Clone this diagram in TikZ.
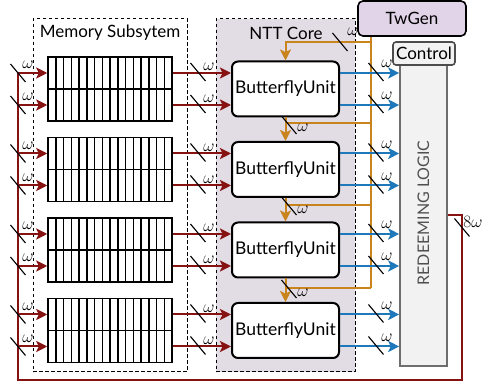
\documentclass[tikz,border=0pt]{standalone}
\usepackage{fontspec}
\setmainfont{Lato}
\usetikzlibrary{arrows.meta}
\definecolor{cred}{RGB}{135,18,18}
\definecolor{cblue}{RGB}{30,120,185}
\definecolor{corange}{RGB}{202,132,30}
\definecolor{nttfill}{RGB}{226,220,228}
\definecolor{twfill}{RGB}{226,212,232}
\definecolor{lgfill}{RGB}{242,242,242}
\definecolor{lgdraw}{RGB}{110,110,110}
\definecolor{lgtext}{RGB}{80,80,80}
\newcommand\wsl[5]{%
  \draw[line width=1.1pt] (#1-7.5,#2-9) -- (#1+7.5,#2+9);
  \node[wlab] at (#1+#3,#2+#4) {#5};}
\begin{document}
\begin{tikzpicture}[x=1pt,y=-1pt,
  tip/.style={-{Stealth[length=11pt,width=11pt,inset=2.5pt]}},
  redarr/.style={draw=cred,line width=2pt,tip},
  redline/.style={draw=cred,line width=2pt},
  bluearr/.style={draw=cblue,line width=2pt,tip},
  oline/.style={draw=corange,line width=2pt},
  oarr/.style={draw=corange,line width=2pt,tip},
  group/.style={draw,line width=1pt,dash pattern=on 3.5pt off 2.5pt},
  grouplab/.style={font=\fontsize{17}{20}\selectfont,inner sep=0pt},
  memrow/.style={draw,fill=white,line width=1.5pt,minimum width=124pt,minimum height=32pt,inner sep=0pt},
  bu/.style={draw,fill=white,line width=2pt,rounded corners=6pt,minimum width=107pt,minimum height=55pt,inner sep=0pt,font=\fontsize{17.5}{20}\selectfont},
  wlab/.style={inner sep=0pt,font=\fontsize{18}{20}\selectfont},
]
\useasboundingbox (0,0) rectangle (483,387);
% groups
\node[group,fill=nttfill,minimum width=139pt,minimum height=353pt,inner sep=0pt] (ntt) at (285.5,195.5) {};
\node[group,minimum width=154pt,minimum height=353pt,inner sep=0pt] (mem) at (110,195.5) {};
\node[grouplab] (memlab) at (110,33) {Memory Subsytem};
\node[grouplab] (nttlab) at (286,33) {NTT Core};
% right blocks
\node[draw=lgdraw,fill=lgfill,line width=1.6pt,minimum width=47pt,minimum height=301pt,inner sep=0pt] (rl) at (423.5,215.5) {};
\node[rotate=90,text=lgtext,inner sep=0pt,font=\fontsize{16}{18}\selectfont] (rltext) at (423.5,213) {REDEEMING LOGIC};
\node[draw=black!70,fill=lgfill,line width=1.6pt,rounded corners=3pt,minimum width=62pt,minimum height=23pt,inner sep=0pt,font=\fontsize{17}{19}\selectfont] (ctl) at (424,53.5) {Control};
\node[draw,fill=twfill,line width=1.6pt,rounded corners=5pt,minimum width=108pt,minimum height=35pt,inner sep=0pt,font=\fontsize{17}{20}\selectfont] (tw) at (412,18.5) {TwGen};
% memory rows and butterfly units
\foreach \c [count=\i] in {89,169.5,250,330.5} {
  \node[memrow] (ma\i) at (110,\c-16) {};
  \node[memrow] (mb\i) at (110,\c+16) {};
  \foreach \k in {1,...,15} {
    \draw[line width=1.5pt] (48+\k*7.75,\c-32) -- (48+\k*7.75,\c+32);
  }
  \node[bu] (b\i) at (285.5,\c) {ButterflyUnit};
}
% orange twiddle network
\coordinate (ov) at (371,288);
\coordinate (oh1) at (371,42);
\coordinate (oh2) at (371,123);
\coordinate (oh3) at (371,205);
\coordinate (oh4) at (371,288);
\draw[oline] (tw.south -| ov) -- (ov);
\foreach \i in {1,...,4} { \draw[oarr] (oh\i) -| (b\i.north); }
\foreach \i/\j in {2/1,3/2,4/3} { \draw[oline] (b\j.south) -- (b\j.south |- oh\i); }
\wsl{340}{42}{13}{-10}{$\omega$}
\wsl{289}{125}{14}{3}{$\omega$}
\wsl{289}{206}{14}{4}{$\omega$}
\wsl{289}{289}{14}{4}{$\omega$}
% feedback path
\coordinate (fbr) at (462,215);
\coordinate (fbl) at (18,380);
\draw[redline] (fbr -| rl.east) -- (fbr) |- (fbl) -- (fbl |- ma1.west);
\wsl{462}{227.5}{11}{-6}{$8\omega$}
% data arrows
\foreach \c [count=\i] in {89,169.5,250,330.5} {
  \foreach \r in {ma,mb} {
    \draw[redarr] (fbl |- \r\i.west) -- (\r\i.west);
    \draw[redarr] (\r\i.east) -- (\r\i.east -| b\i.west);
    \draw[bluearr] (\r\i.east -| b\i.east) -- (\r\i.east -| rl.west);
  }
  \wsl{18}{\c-16}{10}{-8}{$\omega$}
  \wsl{18}{\c+16}{10}{-8}{$\omega$}
  \wsl{198}{\c-17}{11}{-5}{$\omega$}
  \wsl{198}{\c+15}{11}{-5}{$\omega$}
  \wsl{376}{\c-17}{11}{-8}{$\omega$}
  \wsl{376}{\c+15}{11}{-8}{$\omega$}
}
\end{tikzpicture}
\end{document}
